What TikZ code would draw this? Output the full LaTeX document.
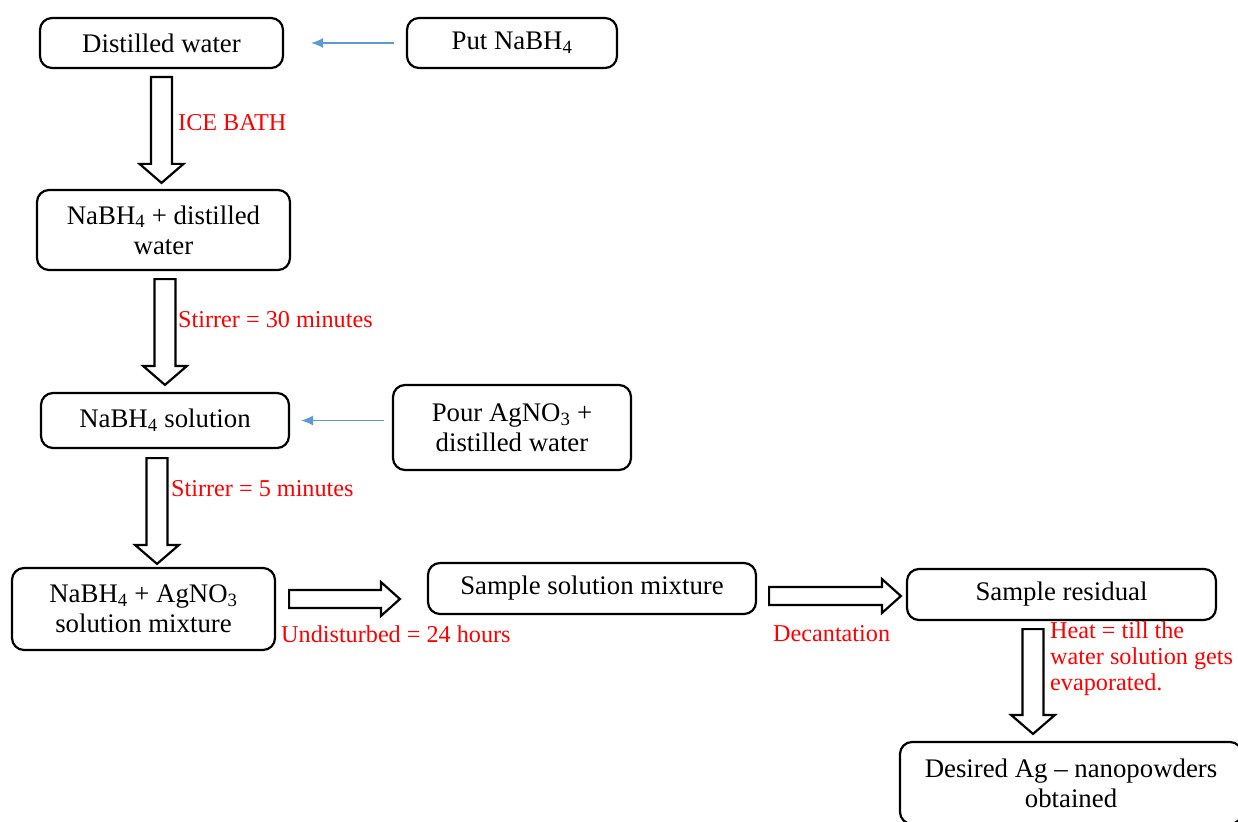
\documentclass[tikz,border=0pt]{standalone}
\usepackage{fontspec}
\setmainfont{Liberation Serif}
\usepackage{tikz}
\usetikzlibrary{arrows.meta,calc}

\definecolor{feedblue}{RGB}{91,155,213}
\definecolor{notered}{RGB}{255,0,0}

\tikzset{
	box/.style={draw, line width=2.2pt, rounded corners=12pt, align=center,
		font=\fontsize{26.8}{30}\selectfont, inner sep=4pt},
	note/.style={text=notered, inner sep=0pt, align=left,
		font=\fontsize{24.2}{26}\selectfont},
	feed/.style={draw=feedblue, line width=1.4pt, -{Latex[length=12pt,width=10pt]}},
	block/.style={draw, line width=2.2pt, fill=white, line join=miter}
}

% hollow block arrows, #1 = start point, #2 = tip
\newcommand{\downblock}[2]{%
	\draw[block] let \p1=#1, \p2=#2 in
		(\x1-10.5pt,\y1) -- (\x1+10.5pt,\y1) -- (\x1+10.5pt,\y2+19pt) -- (\x1+22pt,\y2+19pt)
		-- (\x1,\y2) -- (\x1-22pt,\y2+19pt) -- (\x1-10.5pt,\y2+19pt) -- cycle;}
\newcommand{\rightblock}[2]{%
	\draw[block] let \p1=#1, \p2=#2 in
		(\x1,\y1+9pt) -- (\x2-19pt,\y1+9pt) -- (\x2-19pt,\y1+17pt) -- (\x2,\y1)
		-- (\x2-19pt,\y1-17pt) -- (\x2-19pt,\y1-9pt) -- (\x1,\y1-9pt) -- cycle;}

\begin{document}
\begin{tikzpicture}[x=1pt, y=-1pt]
	\useasboundingbox (0,0) rectangle (1238,821);
	\node (dw) at (161.5,43) [box, minimum width=243pt, minimum height=50pt] {Distilled water};
	\node (pn) at (512,43) [box, minimum width=210pt, minimum height=50pt] {Put NaBH\textsubscript{4}};
		\node (nd) at (163.5,230) [box, minimum width=253pt, minimum height=80pt] {NaBH\textsubscript{4} + distilled\\water};
		\node (ns) at (165,420.5) [box, minimum width=248pt, minimum height=55pt] {NaBH\textsubscript{4} solution};
		\node (pa) at (512,427.5) [box, minimum width=238pt, minimum height=85pt] {Pour AgNO\textsubscript{3} +\\distilled water};
			\node (nm) at (143.5,609) [box, minimum width=263pt, minimum height=82pt] {NaBH\textsubscript{4} + AgNO\textsubscript{3}\\solution mixture};
			\node (sm) at (592,588.5) [box, minimum width=328pt, minimum height=51pt] {Sample solution mixture};
			\node (sr) at (1061.5,594.5) [box, minimum width=309pt, minimum height=51pt] {Sample residual};
				\node (dn) at (1071,783) [box, minimum width=342pt, minimum height=82pt] {Desired Ag -- nanopowders\\obtained};

	\draw[feed, shorten <=12pt, shorten >=27pt] (pn) -- (dw);
	\draw[feed, shorten <=8pt, shorten >=11pt] (ns.east -| pa.west) -- (ns.east);

	\downblock{($(dw.south)+(0,8)$)}{($(nd.north)+(0,-6)$)}
	\downblock{($(nd.south)+(1.5,8)$)}{($(ns.north)+(0,-7)$)}
	\downblock{($(ns.south)+(-8,9)$)}{($(nm.north)+(0,-3)$)}
	\downblock{($(sr.south)+(-28.5,8)$)}{($(dn.north)+(0,-7)$)}
	\rightblock{($(nm.east)+(13,-10)$)}{($(sm.west)+(-27,0)$)}
	\rightblock{($(sm.east)+(12,7.5)$)}{($(sr.west)+(-5,0)$)}

	\node (ib) at (178,123) [note, anchor=west] {ICE BATH};
	\node (s30) at (178,320) [note, anchor=west] {Stirrer = 30 minutes};
	\node (s5) at (171,489) [note, anchor=west] {Stirrer = 5 minutes};
	\node (un) at (281,634) [note, anchor=west] {Undisturbed = 24 hours};
	\node (dc) at (773,634) [note, anchor=west] {Decantation};
	\node (ht) at (1050,622) [note, anchor=north west] {Heat = till the\\water solution gets\\evaporated.};
\end{tikzpicture}
\end{document}
